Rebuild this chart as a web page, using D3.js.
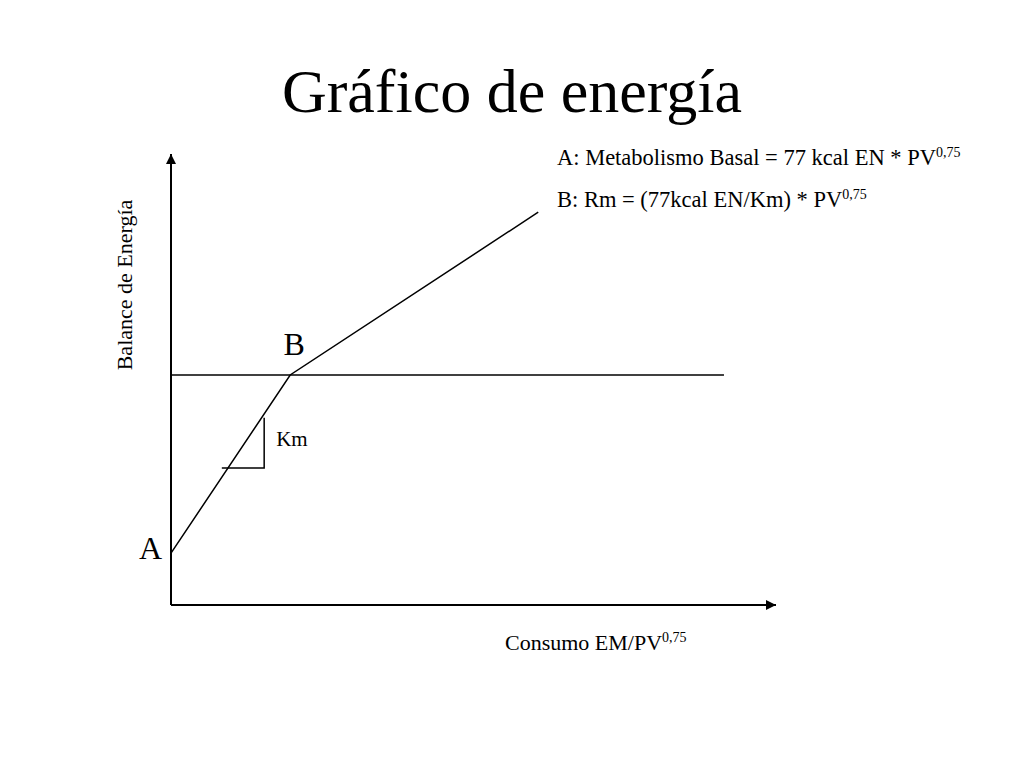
<!DOCTYPE html>
<html>
<head>
<meta charset="utf-8">
<script src="https://cdn.jsdelivr.net/npm/d3@7/dist/d3.min.js"></script>
<style>
  html, body { margin: 0; padding: 0; background: #fff; }
  svg { display: block; font-family: "Liberation Serif", "DejaVu Serif", serif; }
</style>
</head>
<body>
<svg id="chart" width="1024" height="768"></svg>
<script>
// ---- data (in chart units, x: consumo, y: balance) ----
const titleText = "Gráfico de energía";
const xLabel = "Consumo EM/PV";
const yLabel = "Balance de Energía";
const supText = "0,75";
const notes = ["A: Metabolismo Basal = 77 kcal EN * PV", "B: Rm = (77kcal EN/Km) * PV"];
const pointNames = ["A", "B"];
const responseX = [0, 19.7, 60.7];
const responseY = [11.5, 51.0, 87.1];
const maintenanceX = [0, 91.4];
const maintenanceY = [51.0, 51.0];
const kmX = [8.4, 15.4, 15.4];
const kmY = [30.4, 30.4, 41.5];
const kmLabel = "Km";

const svg = d3.select("#chart");
const x = d3.scaleLinear().domain([0, 100]).range([171, 776]);
const y = d3.scaleLinear().domain([0, 100]).range([605, 154]);

// title
svg.append("text").attr("x", 512).attr("y", 112).attr("text-anchor", "middle")
  .attr("font-size", 62).attr("fill", "#000").text(titleText);

// arrow marker
const defs = svg.append("defs");
defs.append("marker").attr("id", "arrow").attr("viewBox", "0 0 10 10")
  .attr("refX", 10).attr("refY", 5).attr("markerWidth", 10).attr("markerHeight", 10)
  .attr("markerUnits", "userSpaceOnUse").attr("orient", "auto")
  .append("path").attr("d", "M0,0 L10,5 L0,10 Z").attr("fill", "#000");

// axes (domain lines drawn with d3 axes, no ticks)
const xAxis = svg.append("g").attr("transform", `translate(0,${y(0)})`)
  .call(d3.axisBottom(x).tickValues([]).tickSizeOuter(0));
xAxis.select(".domain").attr("stroke", "#000").attr("stroke-width", 2)
  .attr("d", `M${x(0)},0H${x(100)}`).attr("marker-end", "url(#arrow)");
const yAxis = svg.append("g").attr("transform", `translate(${x(0)},0)`)
  .call(d3.axisLeft(y).tickValues([]).tickSizeOuter(0));
yAxis.select(".domain").attr("stroke", "#000").attr("stroke-width", 2)
  .attr("d", `M0,${y(0)}V${y(100)}`).attr("marker-end", "url(#arrow)");

const line = d3.line().x(d => x(d[0])).y(d => y(d[1]));

// maintenance line
svg.append("path").datum(d3.zip(maintenanceX, maintenanceY)).attr("d", line)
  .attr("fill", "none").attr("stroke", "#000").attr("stroke-width", 1.5);

// response line
svg.append("path").datum(d3.zip(responseX, responseY)).attr("d", line)
  .attr("fill", "none").attr("stroke", "#000").attr("stroke-width", 1.5);

// Km slope triangle
svg.append("path").datum(d3.zip(kmX, kmY)).attr("d", line)
  .attr("fill", "none").attr("stroke", "#000").attr("stroke-width", 1.5);
svg.append("text").attr("x", x(kmX[1]) + 12).attr("y", (y(kmY[0]) + y(kmY[2])) / 2 + 3)
  .attr("font-size", 21).attr("fill", "#000").text(kmLabel);

// point labels A and B
svg.append("text").attr("x", x(responseX[0]) - 9).attr("y", y(responseY[0]) + 6)
  .attr("text-anchor", "end").attr("font-size", 32).attr("fill", "#000").text(pointNames[0]);
svg.append("text").attr("x", x(responseX[1]) + 4).attr("y", y(responseY[1]) - 20)
  .attr("text-anchor", "middle").attr("font-size", 32).attr("fill", "#000").text(pointNames[1]);

// axis labels
const xl = svg.append("text").attr("x", 505).attr("y", 650).attr("font-size", 22).attr("fill", "#000");
xl.append("tspan").text(xLabel);
xl.append("tspan").attr("font-size", 14).attr("dy", -8).text(supText);

svg.append("text").attr("transform", "translate(132,285) rotate(-90)")
  .attr("text-anchor", "middle").attr("font-size", 22).attr("fill", "#000").text(yLabel);

// notes
notes.forEach((n, i) => {
  const t = svg.append("text").attr("x", 557).attr("y", 165 + i * 42)
    .attr("font-size", 22.5).attr("fill", "#000");
  t.append("tspan").text(n);
  t.append("tspan").attr("font-size", 14).attr("dy", -8).text(supText);
});
</script>
</body>
</html>
